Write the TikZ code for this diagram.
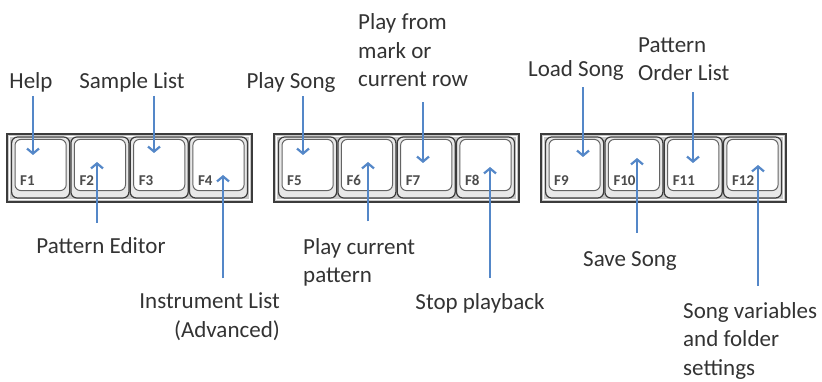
\documentclass[tikz,border=0pt]{standalone}
\usepackage{fontspec}
\setmainfont{Carlito}
\usepackage{tikz}
\usetikzlibrary{arrows.meta,calc,positioning}
\definecolor{callblue}{RGB}{84,135,200}
\definecolor{keyline}{RGB}{60,60,60}
\definecolor{framegray}{RGB}{200,200,200}

\begin{document}
\begin{tikzpicture}[x=1pt,y=-1pt,
	lbl/.style={font=\fontsize{23}{28.5}\selectfont,text=black!80,inner sep=0pt},
	callout/.style={draw=callblue,line width=1.3pt,-{Straight Barb[length=5pt,width=12pt,line width=2.2pt]}},
	frame/.style={draw=keyline,fill=framegray,line width=1.5pt},
	keycap/.style={draw=keyline,fill=gray!18,line width=1.2pt,rounded corners=6pt,minimum width=58pt,minimum height=61pt,inner sep=0pt},
	keyface/.style={draw=keyline!80,fill=white,line width=1pt,rounded corners=6pt},
	keyname/.style={font=\fontsize{15}{15}\selectfont\bfseries,text=black!70,inner sep=0pt,anchor=base west}]
	\useasboundingbox (0,0) rectangle (822,382);

	% three blocks of function keys
	\foreach \gx [count=\g from 0] in {7,274,541}{
		\draw[frame] (\gx,134) rectangle ++(245,68);
		\draw[white,line width=0.8pt] (\gx+2.5,136.5) rectangle ++(240,63);
		\foreach \k in {1,...,4}{
			\pgfmathtruncatemacro{\n}{4*\g+\k}
			\node[keycap] (k\n) at ({\gx+4+29.6+59.3*(\k-1)},167.5) {};
			\draw[keyface] ($(k\n.north west)+(4,3)$) rectangle ($(k\n.south east)+(-4,-8)$);
			\node[keyname] (n\n) at ($(k\n.south west)+(9,-13)$) {F\n};
		}
	}

	% where the arrows end
	\coordinate (t1) at (33,155);
	\coordinate (t2) at (97,162);
	\coordinate (t3) at (154,153);
	\coordinate (t4) at (223,175);
	\coordinate (t5) at (303,155);
	\coordinate (t6) at (368,162);
	\coordinate (t7) at (423,163);
	\coordinate (t8) at (490,167);
	\coordinate (t9) at (583,157);
	\coordinate (t10) at (637,158);
	\coordinate (t11) at (693,163);
	\coordinate (t12) at (758,165);

	% labels above
	\node[lbl,anchor=base] (help) at (31,89) {Help};
	\node[lbl,anchor=base] (sample) at (132,89) {Sample List};
	\node[lbl,anchor=base] (playsong) at (291,89) {Play Song};
	\node[lbl,anchor=base west,align=left] (playmark) at (358,87) {Play from\\mark or\\current row};
	\node[lbl,anchor=base] (load) at (576,77) {Load Song};
	\node[lbl,anchor=base west,align=left] (order) at (638,81) {Pattern\\Order List};

	% labels below
	\node[lbl,anchor=base] (editor) at (101,254) {Pattern Editor};
	\node[lbl,anchor=base east,align=right] (instr) at (280,337) {Instrument List\\(Advanced)};
	\node[lbl,anchor=base west,align=left] (playpat) at (303,283) {Play current\\pattern};
	\node[lbl,anchor=base] (stop) at (480,309) {Stop playback};
	\node[lbl,anchor=base] (save) at (630,266) {Save Song};
	\node[lbl,anchor=base west,align=left] (vars) at (683,375) {Song variables\\and folder\\settings};

	% arrows
	\draw[callout,shorten <=3pt] (help.south -| t1) -- (t1);
	\draw[callout,shorten <=3pt] (sample.south -| t3) -- (t3);
	\draw[callout,shorten <=3pt] (playsong.south -| t5) -- (t5);
	\draw[callout,shorten <=15pt] (playmark.south -| t7) -- (t7);
	\draw[callout,shorten <=6pt] (load.south -| t9) -- (t9);
	\draw[callout,shorten <=11pt] (order.south -| t11) -- (t11);
	\draw[callout,shorten <=15pt] (editor.north -| t2) -- (t2);
	\draw[callout,shorten <=14pt] (instr.north -| t4) -- (t4);
	\draw[callout,shorten <=17pt] (playpat.north -| t6) -- (t6);
	\draw[callout,shorten <=15pt] (stop.north -| t8) -- (t8);
	\draw[callout,shorten <=18pt] (save.north -| t10) -- (t10);
	\draw[callout,shorten <=16pt] (vars.north -| t12) -- (t12);
\end{tikzpicture}
\end{document}
